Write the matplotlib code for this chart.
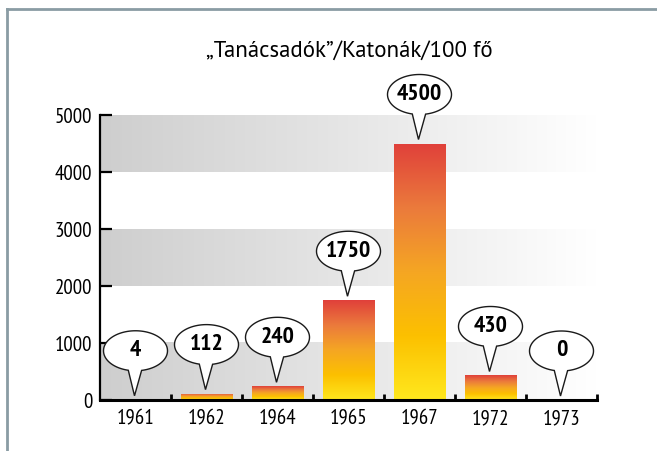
import numpy as np
import matplotlib.pyplot as plt
import matplotlib.transforms as mtransforms
from matplotlib.colors import LinearSegmentedColormap
from matplotlib.patches import Polygon

years = ["1961", "1962", "1964", "1965", "1967", "1972", "1973"]
values = [4, 112, 240, 1750, 4500, 430, 0]
yticks = [0, 1000, 2000, 3000, 4000, 5000]
title = "\u201eTanácsadók\u201d/Katonák/100 fő"

plt.rcParams["font.family"] = ["PT Sans Narrow", "DejaVu Sans"]

fig = plt.figure(figsize=(6.57, 4.52), dpi=100)
ax = fig.add_axes([100 / 657, 51 / 452, 497 / 657, 285 / 452])

# frame round the chart
fig.add_artist(plt.Line2D([6.5 / 657, 6.5 / 657], [0, 1 - 9.5 / 452],
                          color="#8a9ca4", lw=2, transform=fig.transFigure))
fig.add_artist(plt.Line2D([6.5 / 657, 1], [1 - 9.5 / 452, 1 - 9.5 / 452],
                          color="#8a9ca4", lw=2, transform=fig.transFigure))

x = np.arange(len(years))

# shaded bands
band_cmap = LinearSegmentedColormap.from_list("band", ["#cecece", "#e6e6e6", "#ffffff"])
grad = np.linspace(0, 1, 256).reshape(1, -1)
for lo in [0, 2000, 4000]:
    ax.imshow(grad, cmap=band_cmap, aspect="auto", zorder=0,
              extent=[-0.5, len(years) - 0.5, lo, lo + 1000])

# bars with vertical gradient
bar_cmap = LinearSegmentedColormap.from_list(
    "bar", [(0, "#ffe81e"), (0.25, "#fcc000"), (0.5, "#f5a623"),
            (0.75, "#eb7a3c"), (1, "#e0403a")])
vgrad = np.linspace(0, 1, 256).reshape(-1, 1)
bars = ax.bar(x, values, width=0.73, color="#e0403a", linewidth=0, zorder=2)
for b, v in zip(bars, values):
    if v <= 0:
        continue
    if v < 20:
        b.set_edgecolor("#e0403a")
        b.set_linewidth(0.8)
    im = ax.imshow(vgrad, cmap=bar_cmap, origin="lower", aspect="auto", zorder=3,
                   extent=[b.get_x(), b.get_x() + b.get_width(), 0, v])
    im.set_clip_path(b)

ax.set_xlim(-0.5, len(years) - 0.5)
ax.set_ylim(0, 5000)


def callout(xc, yv, text):
    # speech bubble: ellipse with a tail down to the bar top (sizes in pixels)
    trans = fig.dpi_scale_trans + mtransforms.ScaledTranslation(xc, yv, ax.transData)
    a, b_, cy = 32, 20, 49
    t = np.radians(np.linspace(-79, 257, 120))
    ex = a * np.cos(t)
    ey = cy + b_ * np.sin(t)
    verts = np.column_stack([np.append(ex, -1), np.append(ey, 4)]) / 100.0
    poly = Polygon(verts, closed=True, facecolor="white", edgecolor="#1a1a1a",
                   lw=1.0, transform=trans, clip_on=False, zorder=5)
    ax.add_patch(poly)
    ax.text(0, (cy + 1) / 100.0, text, transform=trans, ha="center", va="center",
            fontsize=17, fontweight="bold", zorder=6, clip_on=False)


for xi, v in zip(x, values):
    callout(xi, v, str(v))

for s in ["top", "right"]:
    ax.spines[s].set_visible(False)
ax.spines["left"].set_linewidth(1.6)
ax.spines["bottom"].set_linewidth(2.2)
ax.spines["left"].set_zorder(4)
ax.spines["bottom"].set_zorder(4)

ax.set_yticks(yticks)
ax.set_yticklabels([str(t) for t in yticks], fontsize=15)
ax.tick_params(axis="y", direction="in", length=8.5, width=1.6, pad=5.5)
ax.set_xticks(x)
ax.set_xticklabels(years, fontsize=15)
ax.set_xticks(np.arange(0.5, len(years)), minor=True)
ax.tick_params(axis="x", which="major", length=0, pad=6)
ax.tick_params(axis="x", which="minor", direction="in", length=4.5, width=2)

fig.text(349 / 657, 1 - 57 / 452, title, ha="center", va="baseline",
         fontsize=16.5, family=["PT Sans", "DejaVu Sans"])

fig.savefig("out.png", dpi=100)
